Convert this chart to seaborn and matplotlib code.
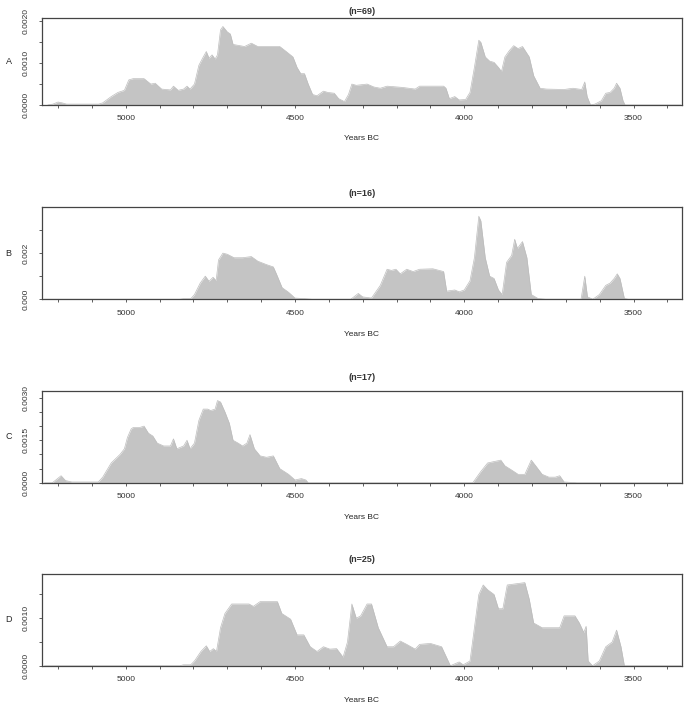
import pandas as pd
import seaborn as sns
import matplotlib.pyplot as plt

# summed probability per site group (Years BC, density)
years_a = [5230, 5215, 5200, 5188, 5175, 5080, 5068, 5043, 5023, 5004, 4991, 4978, 4946, 4926,
           4913, 4894, 4868, 4859, 4845, 4829, 4819, 4810, 4797, 4784, 4771, 4762, 4754, 4745,
           4736, 4729, 4720, 4713, 4700, 4691, 4683, 4649, 4629, 4610, 4545, 4526, 4506, 4494,
           4483, 4472, 4461, 4448, 4435, 4416, 4403, 4384, 4371, 4354, 4342, 4332, 4319, 4287,
           4267, 4248, 4228, 4183, 4145, 4132, 4061, 4054, 4044, 4028, 4015, 3996, 3983, 3970,
           3957, 3951, 3938, 3925, 3912, 3899, 3890, 3880, 3867, 3854, 3841, 3828, 3808, 3795,
           3776, 3757, 3705, 3679, 3653, 3644, 3637, 3627, 3614, 3595, 3582, 3569, 3557, 3550,
           3540, 3531, 3525, 3360]
dens_a = [0, 0.00002, 0.00007, 0.00005, 0.00002, 0.00002, 0.00005, 0.0002, 0.0003, 0.00035,
          0.0006, 0.00063, 0.00063, 0.0005, 0.00052, 0.00038, 0.00036, 0.00045, 0.00035, 0.00038,
          0.00045, 0.00038, 0.0005, 0.00095, 0.00115, 0.00128, 0.00112, 0.0012, 0.0011, 0.0012,
          0.0018, 0.00188, 0.00175, 0.0017, 0.00145, 0.0014, 0.00148, 0.0014, 0.0014, 0.00128,
          0.00115, 0.0009, 0.00075, 0.00075, 0.0005, 0.00025, 0.00022, 0.00033, 0.0003, 0.00028,
          0.00015, 0.00008, 0.00025, 0.0005, 0.00047, 0.0005, 0.00043, 0.0004, 0.00045, 0.00042,
          0.00038, 0.00045, 0.00045, 0.0004, 0.00015, 0.0002, 0.00012, 0.00013, 0.0003, 0.0009,
          0.00155, 0.0015, 0.00115, 0.00105, 0.00102, 0.0009, 0.0008, 0.00115, 0.0013, 0.00142,
          0.00135, 0.0014, 0.00115, 0.0007, 0.0004, 0.00038, 0.00037, 0.0004, 0.00037, 0.00055,
          0.0002, 0.0, 0.00002, 0.0001, 0.00028, 0.0003, 0.0004, 0.00052, 0.0004, 0.0001, 0, 0]

years_b = [5240, 4840, 4830, 4808, 4797, 4780, 4765, 4754, 4742, 4733, 4726, 4713, 4700, 4680,
           4655, 4629, 4610, 4584, 4564, 4555, 4538, 4519, 4500, 4468, 4450, 4335, 4313, 4300,
           4274, 4248, 4228, 4215, 4202, 4189, 4170, 4151, 4132, 4093, 4061, 4052, 4028, 4015,
           4000, 3983, 3970, 3957, 3951, 3938, 3925, 3912, 3899, 3888, 3875, 3860, 3851, 3843,
           3828, 3815, 3802, 3782, 3760, 3655, 3644, 3636, 3620, 3601, 3582, 3569, 3557, 3548,
           3540, 3527, 3515, 3360]
dens_b = [0, 0, 0.00002, 0.00002, 0.0002, 0.0007, 0.001, 0.00078, 0.00095, 0.0008, 0.0017,
          0.002, 0.00195, 0.0018, 0.0018, 0.00185, 0.00165, 0.0015, 0.0014, 0.0011, 0.0005,
          0.0003, 0.00005, 0.00002, 0, 0, 0.00025, 0.0001, 0.00005, 0.0006, 0.0013, 0.00125,
          0.0013, 0.0011, 0.0013, 0.0012, 0.0013, 0.00132, 0.0012, 0.00035, 0.0004, 0.00032,
          0.0004, 0.0008, 0.0018, 0.0036, 0.0034, 0.0018, 0.001, 0.0009, 0.0004, 0.0002, 0.0016,
          0.0019, 0.0026, 0.0022, 0.0025, 0.0018, 0.0002, 0.00003, 0, 0, 0.001, 0.0001, 0,
          0.0002, 0.0006, 0.0007, 0.0009, 0.0011, 0.0009, 0.00003, 0, 0]

years_c = [5240, 5217, 5191, 5178, 5159, 5081, 5068, 5043, 5017, 5004, 4995, 4984, 4978, 4959,
           4946, 4933, 4920, 4907, 4888, 4868, 4859, 4849, 4829, 4819, 4810, 4797, 4784, 4771,
           4758, 4749, 4736, 4729, 4720, 4707, 4694, 4683, 4668, 4655, 4642, 4633, 4620, 4603,
           4584, 4564, 4545, 4519, 4500, 4481, 4468, 4461, 3975, 3951, 3931, 3912, 3892, 3880,
           3860, 3841, 3821, 3802, 3789, 3770, 3750, 3731, 3718, 3705, 3666, 3360]
dens_c = [0, 0, 0.00025, 0.00008, 0.00003, 0.00003, 0.0002, 0.0007, 0.001, 0.0012, 0.0016,
          0.0019, 0.00195, 0.00195, 0.002, 0.00175, 0.00165, 0.0014, 0.0013, 0.0013, 0.00155,
          0.0012, 0.0013, 0.0015, 0.0012, 0.0014, 0.0022, 0.0026, 0.0026, 0.00255, 0.0026,
          0.0029, 0.00285, 0.0025, 0.0021, 0.0015, 0.0014, 0.0013, 0.0014, 0.0017, 0.0012,
          0.00095, 0.0009, 0.00095, 0.0005, 0.0003, 0.0001, 0.00015, 0.0001, 0, 0, 0.0004,
          0.0007, 0.00075, 0.0008, 0.0006, 0.00045, 0.0003, 0.0003, 0.0008, 0.0006, 0.0003,
          0.0002, 0.0002, 0.00025, 0.00003, 0, 0]

years_d = [5240, 4840, 4830, 4808, 4797, 4778, 4762, 4752, 4741, 4732, 4720, 4707, 4687, 4636,
           4623, 4603, 4552, 4539, 4513, 4494, 4474, 4455, 4435, 4416, 4397, 4377, 4358, 4345,
           4332, 4319, 4306, 4287, 4274, 4254, 4228, 4209, 4189, 4170, 4145, 4132, 4100, 4067,
           4054, 4041, 4015, 4003, 3983, 3970, 3957, 3944, 3931, 3912, 3899, 3886, 3873, 3821,
           3808, 3795, 3770, 3718, 3705, 3673, 3660, 3647, 3640, 3634, 3621, 3601, 3582, 3563,
           3550, 3537, 3527, 3360]
dens_d = [0, 0, 0.00002, 0.00002, 0.0001, 0.0003, 0.00042, 0.0003, 0.00036, 0.0003, 0.0008,
          0.0011, 0.0013, 0.0013, 0.00125, 0.00135, 0.00135, 0.0011, 0.00098, 0.00065, 0.00065,
          0.0004, 0.0003, 0.0004, 0.00035, 0.00036, 0.00018, 0.0005, 0.0013, 0.001, 0.00105,
          0.0013, 0.0013, 0.0008, 0.0004, 0.0004, 0.00052, 0.00045, 0.00035, 0.00045, 0.00047,
          0.0004, 0.0002, 0, 0.00008, 0.00002, 0.0001, 0.0008, 0.0015, 0.0017, 0.0016, 0.0015,
          0.0012, 0.0012, 0.0017, 0.00175, 0.0014, 0.0009, 0.0008, 0.0008, 0.00105, 0.00105,
          0.0009, 0.0007, 0.00083, 0.0001, 0, 0.0001, 0.0004, 0.0005, 0.00075, 0.0004, 0, 0]

panel_names = ["A", "B", "C", "D"]
panel_n = [69, 16, 17, 25]

x_ticks = list(range(5200, 3300, -100))
x_labelled = [5000, 4500, 4000, 3500]

y_ticks_a = [0, 0.0005, 0.0010, 0.0015, 0.0020]
y_labels_a = ["0.0000", "", "0.0010", "", "0.0020"]
y_ticks_b = [0, 0.001, 0.002, 0.003]
y_labels_b = ["0.000", "", "0.002", ""]
y_ticks_c = [0, 0.0005, 0.0010, 0.0015, 0.0020, 0.0025, 0.0030]
y_labels_c = ["0.0000", "", "", "0.0015", "", "", "0.0030"]
y_ticks_d = [0, 0.0005, 0.0010, 0.0015]
y_labels_d = ["0.0000", "", "0.0010", ""]


def set_config():
    sns.set_theme(style="ticks")
    plt.rcParams["font.family"] = ["Liberation Sans", "DejaVu Sans"]
    plt.rcParams["axes.edgecolor"] = "#444444"
    plt.rcParams["text.color"] = "#333333"
    plt.rcParams["xtick.color"] = "#444444"
    plt.rcParams["ytick.color"] = "#444444"


def draw_panel(fig, rect, years, dens, name, n, yticks, ylabels, ytop, title_pad):
    ax = fig.add_axes(rect)
    df = pd.DataFrame({"year": years, "density": dens})

    # 면적 채우기 + 외곽선
    ax.fill_between(df["year"], df["density"], color="#c4c4c4", lw=0)
    sns.lineplot(data=df, x="year", y="density", ax=ax, color="#bdbdbd", lw=0.5)

    ax.set_xlim(5248, 3358)
    ax.set_ylim(0, ytop)

    ax.set_xticks(x_ticks)
    ax.set_xticklabels([str(t) if t in x_labelled else "" for t in x_ticks])
    ax.set_yticks(yticks)
    ax.set_yticklabels(ylabels, rotation=90, va="center")
    ax.tick_params(axis="x", length=2.5, width=0.6, labelsize=6, pad=5, labelcolor="#333333")
    ax.tick_params(axis="y", length=2.5, width=0.6, labelsize=6, pad=6, labelcolor="#333333")

    for s in ax.spines.values():
        s.set_visible(True)
        s.set_linewidth(0.9)

    ax.set_title(f"(n={n})", fontsize=6.5, fontweight="bold", pad=title_pad)
    ax.set_xlabel("Years BC", fontsize=6, va="top")
    ax.xaxis.set_label_coords(0.5, -0.34)
    ax.set_ylabel(name, rotation=0, fontsize=6.5, va="center", ha="center")
    ax.yaxis.set_label_coords(-0.052, 0.5)
    return ax


def main():
    set_config()
    fig = plt.figure(figsize=(6.85, 7.09), dpi=100)

    series = [(years_a, dens_a, y_ticks_a, y_labels_a, 0.00209),
              (years_b, dens_b, y_ticks_b, y_labels_b, 0.0040),
              (years_c, dens_c, y_ticks_c, y_labels_c, 0.00325),
              (years_d, dens_d, y_ticks_d, y_labels_d, 0.00194)]
    rects = [[0.061, 0.852, 0.934, 0.123],
             [0.061, 0.578, 0.934, 0.130],
             [0.061, 0.319, 0.934, 0.130],
             [0.061, 0.061, 0.934, 0.130]]
    pads = [2.5, 8, 8, 8]

    for (yrs, ds, yt, yl, ytop), r, p, name, n in zip(series, rects, pads, panel_names, panel_n):
        draw_panel(fig, r, yrs, ds, name, n, yt, yl, ytop, p)

    fig.savefig("out.png", dpi=100)


if __name__ == "__main__":
    main()
